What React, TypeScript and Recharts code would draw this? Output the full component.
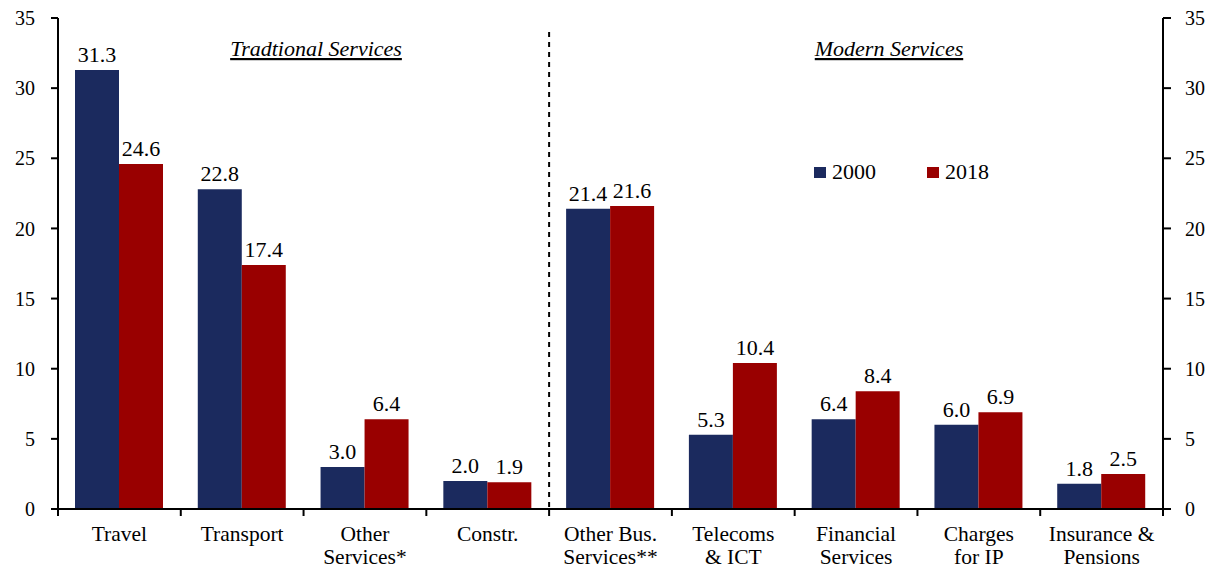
import React from "react";
import {
  ComposedChart,
  Bar,
  Line,
  XAxis,
  YAxis,
  LabelList,
  ReferenceLine,
  Legend,
} from "recharts";

const categories = [
  "Travel",
  "Transport",
  "Other\nServices*",
  "Constr.",
  "Other Bus.\nServices**",
  "Telecoms\n& ICT",
  "Financial\nServices",
  "Charges\nfor IP",
  "Insurance &\nPensions",
];
const values2000 = [31.3, 22.8, 3.0, 2.0, 21.4, 5.3, 6.4, 6.0, 1.8];
const values2018 = [24.6, 17.4, 6.4, 1.9, 21.6, 10.4, 8.4, 6.9, 2.5];
const yTicks = [0, 5, 10, 15, 20, 25, 30, 35];
const seriesNames = ["2000", "2018"];
const sectionTitles = ["Tradtional Services", "Modern Services"];
const dividerCategory = categories[4];

const data = categories.map((c, i) => ({
  name: c,
  v2000: values2000[i],
  v2018: values2018[i],
}));

const FONT = '"Liberation Serif", "Times New Roman", serif';
const NAVY = "#1B2A5E";
const RED = "#990000";

const W = 1215;
const H = 568;
const LEFT_W = 58;
const RIGHT_W = 52;
const BAND = (W - LEFT_W - RIGHT_W) / categories.length;

const CatTick = (props: any) => {
  const { x, y, payload, index } = props;
  const lines = String(payload.value).split("\n");
  return (
    <g>
      <line x1={x - BAND / 2} x2={x - BAND / 2} y1={y} y2={y + 7} stroke="#000" strokeWidth={2} />
      {index === categories.length - 1 && (
        <line x1={x + BAND / 2} x2={x + BAND / 2} y1={y} y2={y + 7} stroke="#000" strokeWidth={2} />
      )}
      <text x={x} y={y + 32} textAnchor="middle" fontFamily={FONT} fontSize={21.5} fill="#000">
        {lines.map((l, i) => (
          <tspan key={i} x={x} dy={i === 0 ? 0 : 23}>
            {l}
          </tspan>
        ))}
      </text>
    </g>
  );
};

const DividerShape = (props: any) => {
  const { x1, y1, x2, y2 } = props;
  return (
    <line
      x1={x1 - BAND / 2}
      x2={x2 - BAND / 2}
      y1={y1}
      y2={y2}
      stroke="#000"
      strokeWidth={2}
      strokeDasharray="5 5"
    />
  );
};

const LegendContent = () => (
  <div style={{ display: "flex", fontFamily: FONT, fontSize: 22, color: "#000", lineHeight: "22px" }}>
    {seriesNames.map((n, i) => (
      <div key={n} style={{ display: "flex", alignItems: "center", marginRight: i === 0 ? 51 : 0 }}>
        <span
          style={{
            display: "inline-block",
            width: 12,
            height: 11,
            background: i === 0 ? NAVY : RED,
            marginRight: 6,
          }}
        />
        <span>{n}</span>
      </div>
    ))}
  </div>
);

export default function App() {
  return (
    <div style={{ position: "absolute", left: 0, top: 0, width: W, height: H, background: "#fff" }}>
      <ComposedChart
        width={W}
        height={H}
        data={data}
        margin={{ top: 18, right: 0, left: 0, bottom: 0 }}
        barGap={0}
        barSize={44}
      >
        <XAxis
          xAxisId="cat"
          dataKey="name"
          height={59}
          axisLine={{ stroke: "#000", strokeWidth: 2 }}
          tickLine={false}
          tickSize={0}
          tickMargin={0}
          interval={0}
          tick={<CatTick />}
        />
        <YAxis
          yAxisId="left"
          width={LEFT_W}
          domain={[0, 35]}
          ticks={yTicks}
          axisLine={{ stroke: "#000", strokeWidth: 2 }}
          tickLine={{ stroke: "#000", strokeWidth: 2 }}
          tickSize={7}
          tickMargin={16}
          tick={{ fontFamily: FONT, fontSize: 20, fill: "#000" }}
        />
        <YAxis
          yAxisId="right"
          orientation="right"
          width={RIGHT_W}
          domain={[0, 35]}
          ticks={yTicks}
          allowDataOverflow
          axisLine={{ stroke: "#000", strokeWidth: 2 }}
          tickLine={{ stroke: "#000", strokeWidth: 2 }}
          tickSize={8}
          tickMargin={14}
          tick={{ fontFamily: FONT, fontSize: 20, fill: "#000" }}
        />
        <ReferenceLine
          xAxisId="cat"
          yAxisId="left"
          segment={[
            { x: dividerCategory, y: 34.0 },
            { x: dividerCategory, y: 0 },
          ]}
          shape={<DividerShape />}
          ifOverflow="visible"
        />
        <Legend
          layout="horizontal"
          verticalAlign="middle"
          align="center"
          wrapperStyle={{ position: "absolute", left: 814, top: 161, width: 220 }}
          content={<LegendContent />}
        />
        <Bar xAxisId="cat" yAxisId="left" dataKey="v2000" name={seriesNames[0]} fill={NAVY} isAnimationActive={false}>
          <LabelList
            dataKey="v2000"
            position="top"
            offset={8}
            formatter={(v: any) => Number(v).toFixed(1)}
            style={{ fontFamily: FONT, fontSize: 22, fill: "#000" }}
          />
        </Bar>
        <Bar xAxisId="cat" yAxisId="left" dataKey="v2018" name={seriesNames[1]} fill={RED} isAnimationActive={false}>
          <LabelList
            dataKey="v2018"
            position="top"
            offset={8}
            formatter={(v: any) => Number(v).toFixed(1)}
            style={{ fontFamily: FONT, fontSize: 22, fill: "#000" }}
          />
        </Bar>
        <Line
          xAxisId="cat"
          yAxisId="right"
          dataKey="v2000"
          stroke="none"
          dot={false}
          activeDot={false}
          legendType="none"
          isAnimationActive={false}
        />
        <text
          x={316}
          y={56}
          textAnchor="middle"
          fontFamily={FONT}
          fontSize={22}
          fontStyle="italic"
          style={{ textDecoration: "underline" }}
          fill="#000"
        >
          {sectionTitles[0]}
        </text>
        <text
          x={889}
          y={56}
          textAnchor="middle"
          fontFamily={FONT}
          fontSize={22}
          fontStyle="italic"
          style={{ textDecoration: "underline" }}
          fill="#000"
        >
          {sectionTitles[1]}
        </text>
      </ComposedChart>
    </div>
  );
}
